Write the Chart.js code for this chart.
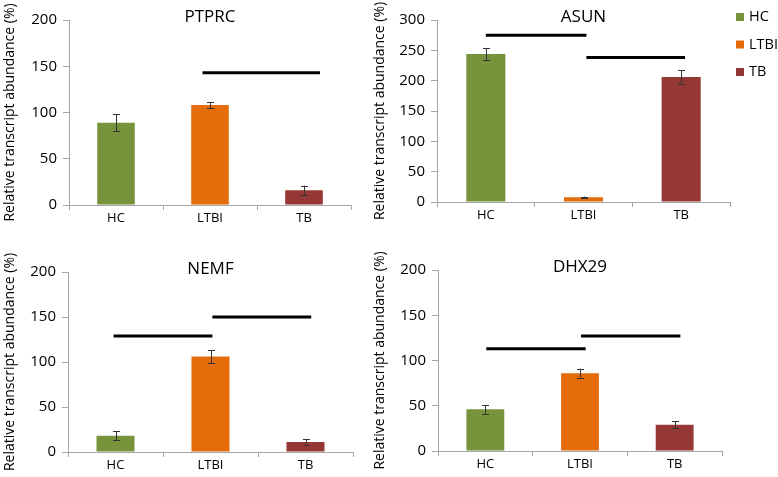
<!DOCTYPE html>
<html lang="en">
<head>
<meta charset="UTF-8" />
<title>Relative transcript abundance</title>
<script src="https://cdn.jsdelivr.net/npm/chart.js"></script>
<style>
  body { margin: 0; background: #fff; }
  .painel { position: absolute; }
</style>
</head>
<body>
  <div class="painel" style="left:0;top:0;width:362px;height:232px"><canvas id="c1"></canvas></div>
  <div class="painel" style="left:370px;top:0;width:408px;height:232px"><canvas id="c2"></canvas></div>
  <div class="painel" style="left:0;top:232px;width:362px;height:245px"><canvas id="c3"></canvas></div>
  <div class="painel" style="left:370px;top:232px;width:408px;height:245px"><canvas id="c4"></canvas></div>

<script>
// dados
const groups = ['HC', 'LTBI', 'TB'];
const groupColors = ['#77933C', '#E46C0A', '#953735'];
const axisTitle = 'Relative transcript abundance (%)';

const ptprcValues = [89, 108, 16];
const ptprcErrors = [9, 3, 5];
const ptprcSig = [[0.92, 2.17, 143]];

const asunValues = [244, 8, 206];
const asunErrors = [10, 1, 11];
const asunSig = [[0.0, 1.03, 275], [1.03, 2.04, 238]];

const nemfValues = [18, 106, 11];
const nemfErrors = [5, 7, 3];
const nemfSig = [[-0.02, 1.02, 129], [1.02, 2.06, 150]];

const dhx29Values = [46, 86, 29];
const dhx29Errors = [5, 5, 4];
const dhx29Sig = [[0.01, 1.06, 113], [1.01, 2.06, 127]];

Chart.defaults.font.family = "'Open Sans', sans-serif";
Chart.defaults.color = '#000';

// barras de erro + linhas de significancia + titulo
const extras = {
  id: 'extras',
  afterDatasetsDraw(chart, args, opts) {
    const ctx = chart.ctx;
    const x = chart.scales.x, y = chart.scales.y;
    const meta = chart.getDatasetMeta(0);
    const vals = chart.data.datasets[0].data;
    ctx.save();
    ctx.strokeStyle = '#333';
    ctx.lineWidth = 1;
    meta.data.forEach((bar, i) => {
      const e = opts.errors[i];
      const top = y.getPixelForValue(vals[i] + e);
      const bot = y.getPixelForValue(vals[i] - e);
      const cx = Math.round(bar.x) + 0.5;
      ctx.beginPath();
      ctx.moveTo(cx, top); ctx.lineTo(cx, bot);
      ctx.moveTo(cx - 3.5, Math.round(top) + 0.5); ctx.lineTo(cx + 3.5, Math.round(top) + 0.5);
      ctx.moveTo(cx - 3.5, Math.round(bot) + 0.5); ctx.lineTo(cx + 3.5, Math.round(bot) + 0.5);
      ctx.stroke();
    });
    ctx.strokeStyle = '#000';
    ctx.lineWidth = 3;
    opts.sig.forEach(s => {
      const py = y.getPixelForValue(s[2]);
      ctx.beginPath();
      ctx.moveTo(x.getPixelForValue(s[0]), py);
      ctx.lineTo(x.getPixelForValue(s[1]), py);
      ctx.stroke();
    });
    ctx.fillStyle = '#000';
    ctx.font = "17px 'Open Sans'";
    ctx.textAlign = 'center';
    ctx.textBaseline = 'middle';
    const ca = chart.chartArea;
    ctx.fillText(opts.title, (ca.left + ca.right) / 2, ca.top - 3);
    if (opts.legend) {
      ctx.font = "14.5px 'Open Sans'";
      ctx.textAlign = 'left';
      groups.forEach((g, i) => {
        const ly = 17 + i * 27.5;
        ctx.fillStyle = groupColors[i];
        ctx.fillRect(ca.right + 6, ly - 4, 8, 8);
        ctx.fillStyle = '#000';
        ctx.fillText(g, ca.right + 19, ly);
      });
    }
    ctx.restore();
  }
};

function makeChart(id, title, values, errors, sig, yMax, box, legend) {
  new Chart(document.getElementById(id), {
    type: 'bar',
    data: {
      labels: groups,
      datasets: [{
        data: values,
        backgroundColor: groupColors,
        barPercentage: 0.4,
        categoryPercentage: 1
      }]
    },
    options: {
      responsive: true,
      maintainAspectRatio: false,
      animation: false,
      layout: { padding: { top: box.top, right: box.right, left: 0, bottom: 0 } },
      plugins: {
        legend: { display: false },
        tooltip: { enabled: false },
        extras: { title: title, errors: errors, sig: sig, legend: legend }
      },
      scales: {
        x: {
          grid: { drawOnChartArea: false, color: '#a6a6a6', tickLength: 5 },
          border: { color: '#a6a6a6' },
          ticks: { font: { size: 13 }, padding: 0 },
          afterFit: s => { s.height = box.xh; }
        },
        y: {
          min: 0, max: yMax,
          grid: { drawOnChartArea: false, color: '#a6a6a6', tickLength: 6 },
          border: { color: '#a6a6a6' },
          ticks: { stepSize: 50, font: { size: 15 }, padding: 6 },
          title: { display: true, text: axisTitle, font: { size: 14 }, padding: { top: 2, bottom: 0 } },
          afterFit: s => { s.width = box.yw; }
        }
      }
    },
    plugins: [extras]
  });
}

makeChart('c1', 'PTPRC', ptprcValues, ptprcErrors, ptprcSig, 200, { yw: 69, top: 20, right: 11, xh: 27 }, false);
makeChart('c2', 'ASUN', asunValues, asunErrors, asunSig, 300, { yw: 67, top: 20, right: 48, xh: 30 }, true);
makeChart('c3', 'NEMF', nemfValues, nemfErrors, nemfSig, 200, { yw: 68, top: 40, right: 9, xh: 25 }, false);
makeChart('c4', 'DHX29', dhx29Values, dhx29Errors, dhx29Sig, 200, { yw: 68, top: 38, right: 56, xh: 26 }, false);
</script>
</body>
</html>
